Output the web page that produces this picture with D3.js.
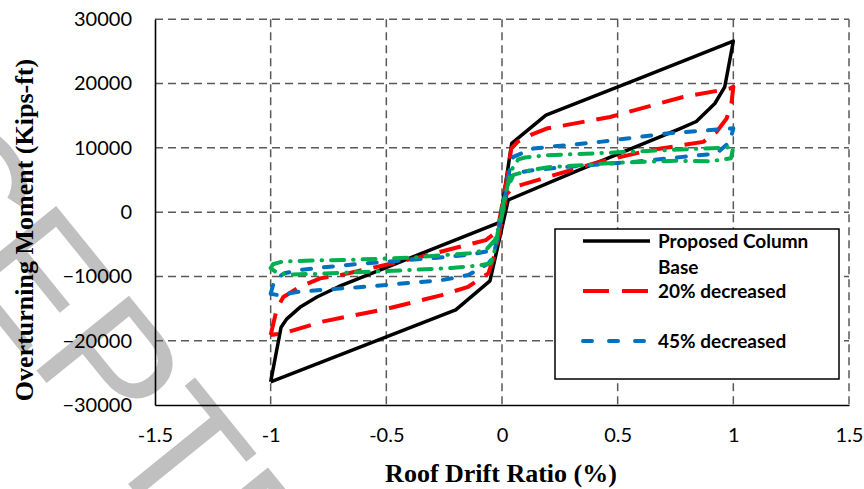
<!DOCTYPE html>
<html>
<head>
<meta charset="utf-8">
<script src="https://cdn.jsdelivr.net/npm/d3@7"></script>
<style>
  body { margin: 0; background: #fff; }
  svg { display: block; }
</style>
</head>
<body>
<svg id="chart" width="864" height="489"></svg>
<script>
// Axis ticks
const xTicks = [-1.5, -1, -0.5, 0, 0.5, 1, 1.5];
const yTicks = [-30000, -20000, -10000, 0, 10000, 20000, 30000];

// Hysteresis loops: [roof drift ratio (%), overturning moment (kips-ft)]
const proposedBase = [
  [-1.00, -26400], [-0.955, -17900], [-0.93, -16600], [-0.87, -14700], [-0.80, -13200],
  [-0.707, -11600], [-0.35, -6450], [-0.01, -1600], [0.042, 10700], [0.19, 15100],
  [0.60, 20900], [1.00, 26600], [0.963, 19500], [0.92, 16900], [0.84, 14100],
  [0.77, 13000], [0.337, 6600], [0.027, 1900], [-0.052, -10700], [-0.20, -15200],
  [-0.60, -20800], [-1.00, -26400]
];
const decreased20 = [
  [-1.00, -19100], [-0.973, -15000], [-0.945, -13200], [-0.873, -11600], [-0.786, -10300],
  [-0.70, -9800], [-0.35, -6950], [-0.07, -4350], [-0.02, -3000], [0.02, 5000],
  [0.04, 9900], [0.07, 11000], [0.13, 12100], [0.193, 13000], [0.467, 14810],
  [0.783, 17920], [0.985, 19230], [1.00, 19500], [0.992, 16900], [0.971, 14570],
  [0.927, 12480], [0.87, 10930], [0.64, 9640], [0.42, 7820], [0.05, 3900],
  [0.02, 2800], [-0.01, -3000], [-0.03, -6420], [-0.059, -9530], [-0.146, -11610],
  [-0.26, -12900], [-0.49, -14970], [-0.779, -17050], [-0.945, -18860], [-1.00, -19100]
];
const decreased45 = [
  [-1.00, -12700], [-0.99, -11400], [-0.975, -10300], [-0.94, -9500], [-0.87, -9000],
  [-0.78, -8600], [-0.57, -7900], [-0.28, -7100], [-0.135, -6600], [-0.05, -6000],
  [-0.02, -4000], [0.00, -500], [0.02, 4000], [0.035, 7000], [0.049, 8600],
  [0.135, 9900], [0.423, 10930], [0.711, 12230], [1.00, 13050], [0.985, 10930],
  [0.927, 9120], [0.783, 8600], [0.567, 7820], [0.279, 7040], [0.135, 6530],
  [0.049, 6020], [0.02, 4000], [0.00, 500], [-0.02, -4000], [-0.038, -7000],
  [-0.059, -8000], [-0.146, -9790], [-0.26, -10570], [-0.59, -11610], [-0.736, -11970],
  [-0.88, -12390], [-0.97, -12900], [-1.00, -12700]
];
const decreasedMore = [
  [-1.00, -8700], [-0.99, -8100], [-0.95, -7700], [-0.85, -7550], [-0.65, -7400],
  [-0.40, -7100], [-0.26, -6700], [-0.14, -6400], [-0.07, -5900], [-0.03, -4300],
  [0.00, -500], [0.02, 3500], [0.04, 6500], [0.07, 8200], [0.10, 8500],
  [0.20, 8860], [0.50, 9300], [0.80, 9800], [0.95, 10000], [1.00, 10150],
  [0.99, 8400], [0.90, 7900], [0.75, 8000], [0.50, 7700], [0.30, 7200],
  [0.20, 7000], [0.12, 6500], [0.05, 5800], [0.02, 3500], [0.00, 500],
  [-0.02, -3500], [-0.035, -6500], [-0.05, -8000], [-0.10, -8300], [-0.22, -8700],
  [-0.40, -9000], [-0.60, -9300], [-0.80, -9600], [-0.92, -9700], [-0.97, -9500],
  [-1.00, -8700]
];

const seriesList = [
  { name: "Proposed Column Base", data: proposedBase, color: "#000000", dash: null, width: 3.5, cap: "butt" },
  { name: "20% decreased", data: decreased20, color: "#ff0000", dash: "22,12", width: 4, cap: "butt" },
  { name: "45% decreased", data: decreased45, color: "#0070c0", dash: "9,13", width: 4, cap: "round" },
  { name: null, data: decreasedMore, color: "#00b050", dash: "13,9,0.5,9", width: 4, cap: "round" }
];
const legendNames = [["Proposed Column", "Base"], ["20% decreased"], ["45% decreased"]];

const svg = d3.select("#chart");

// Background stamp
svg.append("text")
  .attr("transform", "translate(-275,-14) rotate(51)")
  .attr("font-family", "'Liberation Sans', Arial, sans-serif")
  .attr("font-size", 173)
  .attr("fill", "#c0c0c0")
  .text("ACCEPTED MANUSCRIPT");

const x = d3.scaleLinear().domain([-1.5, 1.5]).range([155, 849]);
const y = d3.scaleLinear().domain([-30000, 30000]).range([405, 19.3]);

// Dashed grid
const grid = svg.append("g").attr("stroke", "#595959").attr("stroke-width", 1.5).attr("stroke-dasharray", "8,5");
grid.selectAll("line.v").data(xTicks.filter(d => d !== -1.5)).join("line")
  .attr("x1", d => x(d)).attr("x2", d => x(d))
  .attr("y1", y(30000)).attr("y2", y(-30000));
grid.selectAll("line.h").data(yTicks.filter(d => d !== -30000)).join("line")
  .attr("x1", x(-1.5)).attr("x2", x(1.5))
  .attr("y1", d => y(d)).attr("y2", d => y(d));

// Axes
const tickFont = "Lato, Calibri, sans-serif";
const yAxis = svg.append("g").attr("transform", `translate(${x(-1.5)},0)`)
  .call(d3.axisLeft(y).tickValues(yTicks).tickSize(0).tickPadding(23).tickFormat(d3.format("d")));
const xAxis = svg.append("g").attr("transform", `translate(0,${y(-30000)})`)
  .call(d3.axisBottom(x).tickValues(xTicks).tickSize(0).tickPadding(23).tickFormat(d => String(d)));
[yAxis, xAxis].forEach(g => {
  g.select(".domain").attr("stroke", "#000").attr("stroke-width", 1.6);
  g.selectAll("text").attr("font-family", tickFont).attr("font-size", 20).attr("fill", "#000");
});

// Loops
const line = d3.line().x(d => x(d[0])).y(d => y(d[1]));
svg.append("g").selectAll("path").data(seriesList).join("path")
  .attr("d", d => line(d.data))
  .attr("fill", "none")
  .attr("stroke", d => d.color)
  .attr("stroke-width", d => d.width)
  .attr("stroke-linejoin", "round")
  .attr("stroke-linecap", d => d.cap)
  .attr("stroke-dasharray", d => d.dash);

// Axis titles
svg.append("text")
  .attr("x", 501).attr("y", 482)
  .attr("text-anchor", "middle")
  .attr("font-family", "'Liberation Serif', 'Times New Roman', serif")
  .attr("font-weight", "bold").attr("font-size", 26)
  .text("Roof Drift Ratio (%)");
svg.append("text")
  .attr("transform", "translate(33,230) rotate(-90)")
  .attr("text-anchor", "middle")
  .attr("font-family", "'Liberation Serif', 'Times New Roman', serif")
  .attr("font-weight", "bold").attr("font-size", 26)
  .text("Overturning Moment (Kips-ft)");

// Legend
const legend = svg.append("g");
legend.append("rect")
  .attr("x", 555).attr("y", 229).attr("width", 284).attr("height", 150)
  .attr("fill", "#fff").attr("stroke", "#000").attr("stroke-width", 1.5);
const rowY = [241, 291, 341];
seriesList.slice(0, 3).forEach((s, i) => {
  legend.append("line")
    .attr("x1", 583).attr("x2", 650).attr("y1", rowY[i]).attr("y2", rowY[i])
    .attr("stroke", s.color).attr("stroke-width", s.width)
    .attr("stroke-linecap", s.cap)
    .attr("stroke-dasharray", i === 1 ? "26,13" : i === 2 ? "9,17" : null);
  const t = legend.append("text")
    .attr("x", 658).attr("y", rowY[i] + 6.5)
    .attr("font-family", tickFont).attr("font-weight", "bold").attr("font-size", 19)
    .attr("fill", "#000");
  legendNames[i].forEach((ln, j) => {
    t.append("tspan").attr("x", 658).attr("dy", j === 0 ? 0 : 26).text(ln);
  });
});
</script>
</body>
</html>
